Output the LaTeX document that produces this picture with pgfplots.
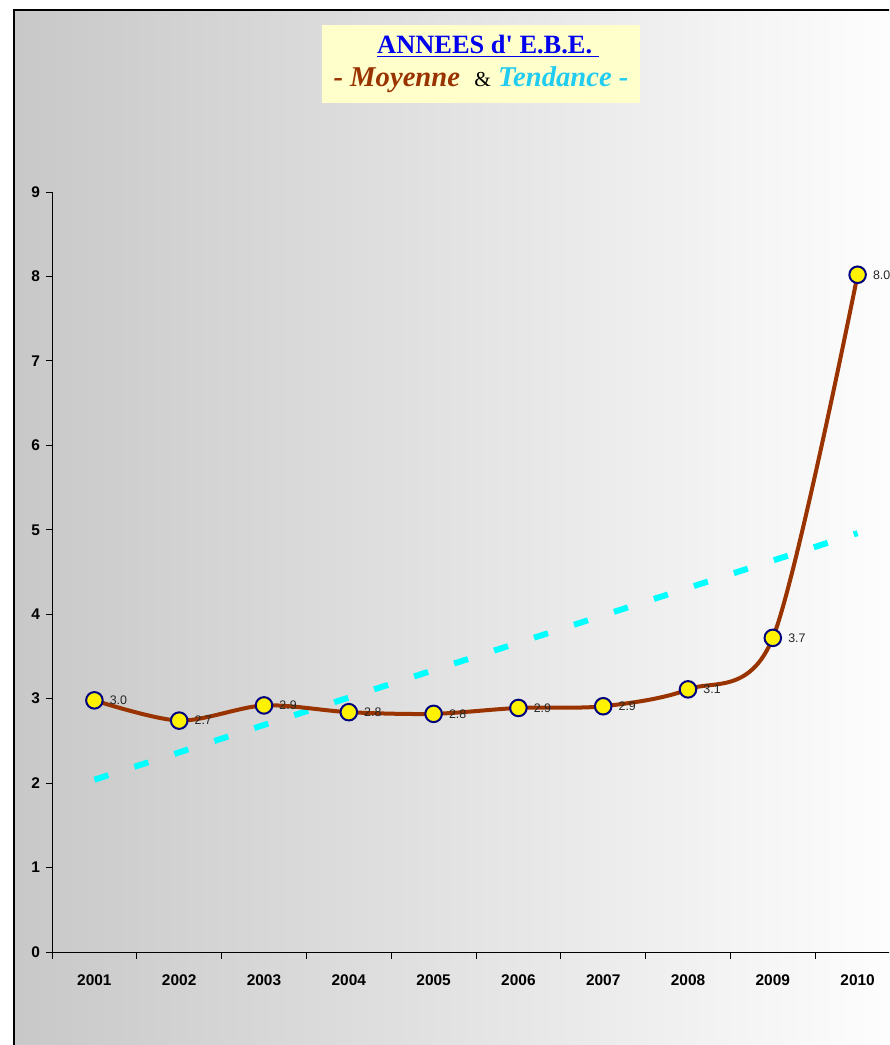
\documentclass[border=0pt]{standalone}
\usepackage{pgfplots}
\pgfplotsset{compat=1.18}
\usepackage{fontspec}
\setmainfont{Liberation Sans}
\newfontfamily\seriffont{Liberation Serif}
\definecolor{brownline}{HTML}{993300}
\definecolor{trendc}{HTML}{00FFFF}
\definecolor{navym}{HTML}{000080}
\definecolor{titlebg}{HTML}{FFFFCC}
\definecolor{titleblue}{HTML}{0000EE}
\definecolor{tendc}{HTML}{22CCF0}
\definecolor{bgleft}{HTML}{C8C8C8}
\begin{document}
\begin{tikzpicture}[x=0.75pt,y=0.75pt]
\path[use as bounding box] (0,0) rectangle (889,1045);
\clip (0,0) rectangle (889,1045);
\shade[left color=bgleft, right color=white] (14,-20) rectangle (920,1035);
\draw[black, line width=0.9pt] (14,-20) -- (14,1035) -- (920,1035);
\fill[titlebg] (322,942) rectangle (640,1020);
\node[text=titleblue, font=\seriffont\bfseries\fontsize{19.8}{23}\selectfont] at (488,999) {\underline{ANNEES d' E.B.E.\ }};
\node[font=\seriffont\bfseries\itshape\fontsize{21.5}{24}\selectfont] at (481,965) {\textcolor{brownline}{- Moyenne}\ \ {\normalfont\seriffont\fontsize{16}{18}\selectfont\textcolor{black}{\&}}\ \textcolor{tendc}{Tendance -}};
\begin{axis}[
  at={(39pt,69.75pt)}, anchor=south west,
  scale only axis, width=636pt, height=570pt,
  xmin=-0.5, xmax=9.5, ymin=0, ymax=9,
  axis x line=bottom, axis y line=left,
  axis line style={-, black, line width=0.6pt},
  xtick={0,...,9},
  xticklabels={2001,2002,2003,2004,2005,2006,2007,2008,2009,2010},
  minor xtick={-0.5,0.5,...,9.5},
  major x tick style={draw=none},
  minor tick length=5pt,
  ytick={0,...,9},
  major tick length=4.5pt,
  tick align=outside,
  tick style={black, line width=0.6pt},
  /pgf/number format/assume math mode=true,
  ticklabel style={font=\bfseries\fontsize{11.6}{13}\selectfont},
  xticklabel style={yshift=-9pt},
  yticklabel style={xshift=-1pt},
  clip=false,
]
\addplot[trendc, line width=4.5pt, dash pattern=on 11pt off 20.5pt] coordinates {(0,2.04) (9,4.96)};
\addplot[brownline, line width=3pt, smooth, tension=0.5, mark=*, mark size=6.2pt,
  mark options={fill=yellow, draw=navym, line width=1.5pt, solid},
  nodes near coords, point meta=explicit symbolic,
  nodes near coords style={anchor=west, xshift=7.5pt, font=\fontsize{9.3}{10}\selectfont, text=black!85}]
  coordinates {
  (0,2.98) [3.0]
  (1,2.74) [2.7]
  (2,2.92) [2.9]
  (3,2.84) [2.8]
  (4,2.82) [2.8]
  (5,2.89) [2.9]
  (6,2.91) [2.9]
  (7,3.11) [3.1]
  (8,3.72) [3.7]
  (9,8.02) [8.0]
  };
\end{axis}
\end{tikzpicture}
\end{document}
